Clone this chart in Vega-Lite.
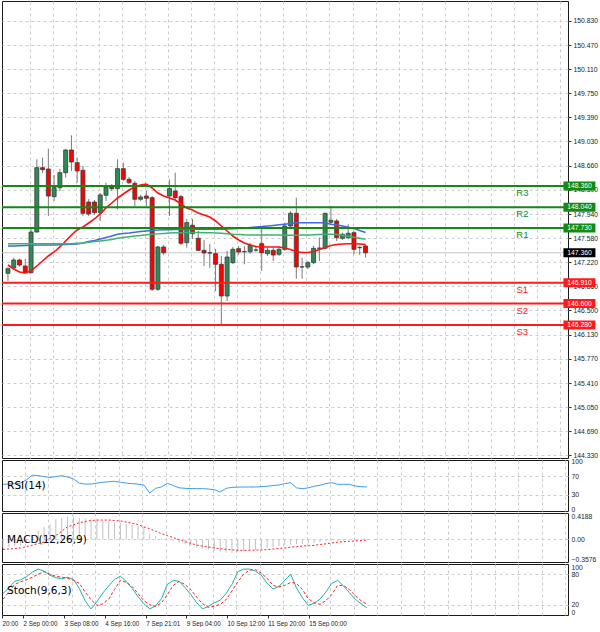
{
  "$schema": "https://vega.github.io/schema/vega-lite/v6.json",
  "padding": 0,
  "background": "white",
  "spacing": 2,
  "bounds": "flush",
  "datasets": {
    "bars": [
      {"i":0,"o":147.053,"h":147.147,"l":146.938,"c":147.122,"m1":147.177,"m2":147.462,"m3":147.496,"rsi":52.5,"macd":-0.13,"sig":-0.157,"k":42,"d":31},
      {"i":1,"o":147.132,"h":147.287,"l":147.117,"c":147.252,"m1":147.117,"m2":147.462,"m3":147.496,"rsi":53,"macd":-0.12,"sig":-0.152,"k":53,"d":45},
      {"i":2,"o":147.252,"h":147.272,"l":147.152,"c":147.177,"m1":147.072,"m2":147.465,"m3":147.496,"rsi":54,"macd":-0.11,"sig":-0.145,"k":66,"d":60},
      {"i":3,"o":147.162,"h":147.267,"l":147.058,"c":147.062,"m1":147.058,"m2":147.469,"m3":147.496,"rsi":55,"macd":-0.1,"sig":-0.132,"k":69,"d":65},
      {"i":4,"o":147.062,"h":147.736,"l":147.05,"c":147.671,"m1":147.088,"m2":147.474,"m3":147.496,"rsi":62,"macd":-0.04,"sig":-0.115,"k":75,"d":69},
      {"i":5,"o":147.671,"h":148.76,"l":147.661,"c":148.634,"m1":147.162,"m2":147.477,"m3":147.496,"rsi":72,"macd":0.06,"sig":-0.09,"k":84,"d":74},
      {"i":6,"o":148.634,"h":148.784,"l":148.555,"c":148.604,"m1":147.237,"m2":147.477,"m3":147.496,"rsi":71,"macd":0.14,"sig":-0.065,"k":90,"d":80},
      {"i":7,"o":148.614,"h":148.918,"l":147.911,"c":148.21,"m1":147.312,"m2":147.477,"m3":147.496,"rsi":69,"macd":0.2,"sig":-0.04,"k":86,"d":85},
      {"i":8,"o":148.2,"h":148.525,"l":148.135,"c":148.335,"m1":147.372,"m2":147.477,"m3":147.496,"rsi":67,"macd":0.24,"sig":0.02,"k":78,"d":80},
      {"i":9,"o":148.335,"h":148.614,"l":148.285,"c":148.559,"m1":147.447,"m2":147.48,"m3":147.496,"rsi":69,"macd":0.32,"sig":0.06,"k":73,"d":76},
      {"i":10,"o":148.559,"h":148.914,"l":148.484,"c":148.899,"m1":147.537,"m2":147.484,"m3":147.496,"rsi":71,"macd":0.34,"sig":0.13,"k":71,"d":74},
      {"i":11,"o":148.899,"h":149.119,"l":148.585,"c":148.719,"m1":147.626,"m2":147.489,"m3":147.496,"rsi":68,"macd":0.36,"sig":0.2,"k":74,"d":72},
      {"i":12,"o":148.709,"h":148.784,"l":148.409,"c":148.585,"m1":147.701,"m2":147.493,"m3":147.501,"rsi":64,"macd":0.36,"sig":0.23,"k":70,"d":68},
      {"i":13,"o":148.595,"h":148.659,"l":147.911,"c":147.951,"m1":147.746,"m2":147.507,"m3":147.507,"rsi":55,"macd":0.34,"sig":0.265,"k":52,"d":62},
      {"i":14,"o":148.12,"h":148.165,"l":147.911,"c":147.941,"m1":147.806,"m2":147.529,"m3":147.519,"rsi":53,"macd":0.34,"sig":0.283,"k":28,"d":45},
      {"i":15,"o":148.12,"h":148.15,"l":147.93,"c":147.96,"m1":147.866,"m2":147.544,"m3":147.528,"rsi":53,"macd":0.32,"sig":0.3,"k":12,"d":30},
      {"i":16,"o":147.96,"h":148.255,"l":147.836,"c":148.225,"m1":147.941,"m2":147.567,"m3":147.537,"rsi":55,"macd":0.32,"sig":0.307,"k":26,"d":19},
      {"i":17,"o":148.221,"h":148.409,"l":148.135,"c":148.345,"m1":148.031,"m2":147.589,"m3":147.547,"rsi":57,"macd":0.29,"sig":0.307,"k":43,"d":22},
      {"i":18,"o":148.349,"h":148.39,"l":148.285,"c":148.32,"m1":148.105,"m2":147.611,"m3":147.559,"rsi":58,"macd":0.28,"sig":0.307,"k":57,"d":31},
      {"i":19,"o":148.32,"h":148.76,"l":148.011,"c":148.619,"m1":148.18,"m2":147.637,"m3":147.576,"rsi":59,"macd":0.27,"sig":0.3,"k":70,"d":50},
      {"i":20,"o":148.619,"h":148.709,"l":148.435,"c":148.46,"m1":148.24,"m2":147.649,"m3":147.589,"rsi":57,"macd":0.26,"sig":0.293,"k":76,"d":68},
      {"i":21,"o":148.46,"h":148.495,"l":148.39,"c":148.409,"m1":148.3,"m2":147.656,"m3":147.6,"rsi":55,"macd":0.24,"sig":0.275,"k":66,"d":64},
      {"i":22,"o":148.4,"h":148.435,"l":148.061,"c":148.161,"m1":148.345,"m2":147.667,"m3":147.611,"rsi":54,"macd":0.23,"sig":0.255,"k":52,"d":56},
      {"i":23,"o":148.161,"h":148.225,"l":148.135,"c":148.195,"m1":148.375,"m2":147.677,"m3":147.62,"rsi":53,"macd":0.21,"sig":0.235,"k":36,"d":42},
      {"i":24,"o":148.21,"h":148.285,"l":148.061,"c":148.176,"m1":148.39,"m2":147.686,"m3":147.629,"rsi":51,"macd":0.2,"sig":0.2,"k":22,"d":28},
      {"i":25,"o":148.185,"h":148.21,"l":146.788,"c":146.814,"m1":148.33,"m2":147.692,"m3":147.637,"rsi":34,"macd":0.09,"sig":0.17,"k":12,"d":20},
      {"i":26,"o":146.814,"h":147.462,"l":146.788,"c":147.447,"m1":148.255,"m2":147.7,"m3":147.643,"rsi":44,"macd":0.05,"sig":0.13,"k":18,"d":17},
      {"i":27,"o":147.447,"h":147.477,"l":147.327,"c":147.361,"m1":148.21,"m2":147.704,"m3":147.649,"rsi":47,"macd":0.02,"sig":0.09,"k":32,"d":24},
      {"i":28,"o":148.21,"h":148.46,"l":147.911,"c":148.32,"m1":148.18,"m2":147.706,"m3":147.655,"rsi":54.6,"macd":0.005,"sig":0.06,"k":60,"d":40},
      {"i":29,"o":148.285,"h":148.559,"l":148.135,"c":148.185,"m1":148.15,"m2":147.707,"m3":147.658,"rsi":50,"macd":-0.02,"sig":0.03,"k":68,"d":58},
      {"i":30,"o":148.2,"h":148.225,"l":147.477,"c":147.502,"m1":148.09,"m2":147.709,"m3":147.659,"rsi":45,"macd":-0.05,"sig":0.0,"k":66,"d":66},
      {"i":31,"o":147.511,"h":147.866,"l":147.436,"c":147.811,"m1":148.031,"m2":147.71,"m3":147.662,"rsi":44,"macd":-0.07,"sig":-0.035,"k":54,"d":60},
      {"i":32,"o":147.772,"h":147.866,"l":147.567,"c":147.646,"m1":148.001,"m2":147.712,"m3":147.664,"rsi":43.5,"macd":-0.1,"sig":-0.06,"k":40,"d":50},
      {"i":33,"o":147.577,"h":147.686,"l":147.387,"c":147.397,"m1":147.956,"m2":147.712,"m3":147.664,"rsi":43.3,"macd":-0.13,"sig":-0.09,"k":24,"d":35},
      {"i":34,"o":147.397,"h":147.552,"l":147.162,"c":147.357,"m1":147.926,"m2":147.712,"m3":147.661,"rsi":43.3,"macd":-0.145,"sig":-0.107,"k":12,"d":22},
      {"i":35,"o":147.36,"h":147.492,"l":147.137,"c":147.355,"m1":147.896,"m2":147.712,"m3":147.659,"rsi":42.5,"macd":-0.16,"sig":-0.12,"k":17,"d":15},
      {"i":36,"o":147.347,"h":147.417,"l":146.788,"c":147.188,"m1":147.836,"m2":147.712,"m3":147.656,"rsi":41,"macd":-0.18,"sig":-0.135,"k":24,"d":17},
      {"i":37,"o":147.188,"h":147.312,"l":146.294,"c":146.713,"m1":147.761,"m2":147.713,"m3":147.652,"rsi":36.3,"macd":-0.2,"sig":-0.147,"k":29,"d":21},
      {"i":38,"o":146.713,"h":147.387,"l":146.638,"c":147.297,"m1":147.686,"m2":147.716,"m3":147.646,"rsi":44,"macd":-0.21,"sig":-0.157,"k":42,"d":30},
      {"i":39,"o":147.212,"h":147.447,"l":147.192,"c":147.412,"m1":147.611,"m2":147.721,"m3":147.638,"rsi":46,"macd":-0.21,"sig":-0.165,"k":60,"d":47},
      {"i":40,"o":147.421,"h":147.462,"l":147.327,"c":147.372,"m1":147.552,"m2":147.725,"m3":147.634,"rsi":46.5,"macd":-0.2,"sig":-0.172,"k":85,"d":65},
      {"i":41,"o":147.376,"h":147.462,"l":147.188,"c":147.378,"m1":147.507,"m2":147.728,"m3":147.629,"rsi":46.8,"macd":-0.185,"sig":-0.173,"k":90,"d":80},
      {"i":42,"o":147.376,"h":147.511,"l":147.342,"c":147.472,"m1":147.477,"m2":147.737,"m3":147.626,"rsi":46.8,"macd":-0.185,"sig":-0.172,"k":90,"d":88},
      {"i":43,"o":147.402,"h":147.462,"l":147.372,"c":147.4,"m1":147.454,"m2":147.745,"m3":147.626,"rsi":46.8,"macd":-0.17,"sig":-0.17,"k":86,"d":89},
      {"i":44,"o":147.496,"h":147.716,"l":147.088,"c":147.361,"m1":147.447,"m2":147.752,"m3":147.626,"rsi":47.5,"macd":-0.16,"sig":-0.168,"k":78,"d":82},
      {"i":45,"o":147.347,"h":147.432,"l":147.312,"c":147.397,"m1":147.447,"m2":147.761,"m3":147.626,"rsi":48.5,"macd":-0.14,"sig":-0.16,"k":62,"d":72},
      {"i":46,"o":147.397,"h":147.432,"l":147.237,"c":147.327,"m1":147.447,"m2":147.769,"m3":147.626,"rsi":50,"macd":-0.12,"sig":-0.152,"k":51,"d":58},
      {"i":47,"o":147.338,"h":147.447,"l":147.312,"c":147.412,"m1":147.447,"m2":147.778,"m3":147.625,"rsi":51,"macd":-0.105,"sig":-0.143,"k":56,"d":55},
      {"i":48,"o":147.412,"h":147.811,"l":147.387,"c":147.761,"m1":147.432,"m2":147.787,"m3":147.623,"rsi":54,"macd":-0.09,"sig":-0.135,"k":68,"d":58},
      {"i":49,"o":147.761,"h":147.986,"l":147.731,"c":147.951,"m1":147.409,"m2":147.797,"m3":147.622,"rsi":56,"macd":-0.08,"sig":-0.122,"k":80,"d":64},
      {"i":50,"o":147.951,"h":148.185,"l":146.972,"c":147.147,"m1":147.379,"m2":147.808,"m3":147.623,"rsi":45,"macd":-0.075,"sig":-0.114,"k":53,"d":62},
      {"i":51,"o":147.147,"h":147.287,"l":146.972,"c":147.15,"m1":147.364,"m2":147.811,"m3":147.626,"rsi":43.3,"macd":-0.07,"sig":-0.105,"k":34,"d":50},
      {"i":52,"o":147.147,"h":147.237,"l":147.117,"c":147.212,"m1":147.364,"m2":147.811,"m3":147.628,"rsi":45,"macd":-0.06,"sig":-0.1,"k":19,"d":32},
      {"i":53,"o":147.212,"h":147.462,"l":147.192,"c":147.427,"m1":147.379,"m2":147.811,"m3":147.631,"rsi":48.5,"macd":-0.055,"sig":-0.094,"k":23,"d":24},
      {"i":54,"o":147.427,"h":147.586,"l":147.237,"c":147.43,"m1":147.409,"m2":147.811,"m3":147.634,"rsi":50.5,"macd":-0.045,"sig":-0.08,"k":31,"d":21},
      {"i":55,"o":147.427,"h":147.96,"l":147.417,"c":147.951,"m1":147.439,"m2":147.806,"m3":147.637,"rsi":54,"macd":-0.03,"sig":-0.07,"k":45,"d":28},
      {"i":56,"o":147.817,"h":148.061,"l":147.776,"c":147.846,"m1":147.469,"m2":147.788,"m3":147.637,"rsi":56,"macd":-0.02,"sig":-0.055,"k":62,"d":40},
      {"i":57,"o":147.836,"h":147.866,"l":147.537,"c":147.586,"m1":147.484,"m2":147.776,"m3":147.634,"rsi":52.5,"macd":-0.02,"sig":-0.045,"k":68,"d":58},
      {"i":58,"o":147.577,"h":147.661,"l":147.552,"c":147.637,"m1":147.492,"m2":147.761,"m3":147.622,"rsi":52.5,"macd":-0.015,"sig":-0.036,"k":57,"d":58},
      {"i":59,"o":147.586,"h":147.787,"l":147.562,"c":147.652,"m1":147.496,"m2":147.742,"m3":147.607,"rsi":52.5,"macd":-0.01,"sig":-0.03,"k":44,"d":50},
      {"i":60,"o":147.661,"h":147.686,"l":147.338,"c":147.412,"m1":147.496,"m2":147.722,"m3":147.592,"rsi":49,"macd":-0.015,"sig":-0.025,"k":31,"d":38},
      {"i":61,"o":147.436,"h":147.462,"l":147.327,"c":147.44,"m1":147.492,"m2":147.694,"m3":147.577,"rsi":47.5,"macd":-0.015,"sig":-0.018,"k":22,"d":28},
      {"i":62,"o":147.462,"h":147.487,"l":147.287,"c":147.36,"m1":147.484,"m2":147.664,"m3":147.562,"rsi":46.8,"macd":-0.015,"sig":-0.01,"k":14,"d":21}
    ],
    "levels": [
      {"lab":"R3","v":148.36,"kind":"R"},
      {"lab":"R2","v":148.04,"kind":"R"},
      {"lab":"R1","v":147.73,"kind":"R"},
      {"lab":"S1","v":146.91,"kind":"S"},
      {"lab":"S2","v":146.6,"kind":"S"},
      {"lab":"S3","v":146.28,"kind":"S"},
      {"lab":"","v":147.36,"kind":"P"}
    ]
  },
  "vconcat": [
    {
      "width": 566,
      "height": 457,
      "data": {"name": "bars"},
      "layer": [
        {
          "data": {"name": "levels"},
          "transform": [{"filter": "datum.kind == 'P'"}],
          "mark": {"type": "rule", "color": "#c8c8c8", "strokeWidth": 1},
          "encoding": {
            "y": {"field": "v", "type": "quantitative", "title": null,
              "scale": {"domain": [144.288, 151.129], "nice": false, "zero": false},
              "axis": {"orient": "right", "values": [150.83,150.47,150.11,149.75,149.39,149.03,148.66,148.3,147.94,147.58,147.22,146.86,146.5,146.13,145.77,145.41,145.05,144.69,144.33], "tickCount": 100, "format": ".3f", "labelOverlap": false, "tickSize": 3, "labelPadding": 2, "grid": true, "domain": false}}
          }
        },
        {
          "mark": {"type": "rule", "color": "#7a7a7a", "strokeWidth": 1},
          "encoding": {
            "x": {"field": "i", "type": "quantitative", "title": null,
              "scale": {"domain": [-0.17, 96.25], "nice": false, "zero": false},
              "axis": {"values": [3.75,7.75,11.75,15.75,19.75,23.75,27.75,31.75,35.75,39.75,43.75,47.75,51.75,55.75,59.75,63.75,67.75,71.75,75.75,79.75,83.75,87.75,91.75,95.75], "tickCount": 100, "labels": false, "ticks": false, "domain": false, "grid": true}},
            "y": {"field": "l", "type": "quantitative", "title": null, "scale": {"domain": [144.288, 151.129], "nice": false, "zero": false}},
            "y2": {"field": "h"}
          }
        },
        {
          "mark": {"type": "bar", "orient": "vertical", "size": 4, "stroke": "#3a3a3a", "strokeWidth": 0.8},
          "encoding": {
            "x": {"field": "i", "type": "quantitative", "title": null, "scale": {"domain": [-0.17, 96.25], "nice": false, "zero": false}},
            "y": {"field": "o", "type": "quantitative", "title": null, "scale": {"domain": [144.288, 151.129], "nice": false, "zero": false}},
            "y2": {"field": "c"},
            "fill": {"condition": {"test": "datum.c >= datum.o", "value": "#2e8b57"}, "value": "#ff0000"}
          }
        },
        {
          "mark": {"type": "line", "color": "#ff1010", "strokeWidth": 1.6},
          "encoding": {
            "x": {"field": "i", "type": "quantitative", "title": null, "scale": {"domain": [-0.17, 96.25], "nice": false, "zero": false}},
            "y": {"field": "m1", "type": "quantitative", "title": null, "scale": {"domain": [144.288, 151.129], "nice": false, "zero": false}}
          }
        },
        {
          "mark": {"type": "line", "color": "#4169e1", "strokeWidth": 1.5},
          "encoding": {
            "x": {"field": "i", "type": "quantitative", "title": null, "scale": {"domain": [-0.17, 96.25], "nice": false, "zero": false}},
            "y": {"field": "m2", "type": "quantitative", "title": null, "scale": {"domain": [144.288, 151.129], "nice": false, "zero": false}}
          }
        },
        {
          "mark": {"type": "line", "color": "#3cb371", "strokeWidth": 1.5},
          "encoding": {
            "x": {"field": "i", "type": "quantitative", "title": null, "scale": {"domain": [-0.17, 96.25], "nice": false, "zero": false}},
            "y": {"field": "m3", "type": "quantitative", "title": null, "scale": {"domain": [144.288, 151.129], "nice": false, "zero": false}}
          }
        },
        {
          "data": {"name": "levels"},
          "transform": [{"filter": "datum.kind != 'P'"}],
          "mark": {"type": "rule", "strokeWidth": 2},
          "encoding": {
            "y": {"field": "v", "type": "quantitative", "title": null, "scale": {"domain": [144.288, 151.129], "nice": false, "zero": false}},
            "color": {"field": "kind", "type": "nominal", "legend": null, "scale": {"domain": ["R", "S", "P"], "range": ["#138a13", "#ff1a1a", "#000000"]}}
          }
        },
        {
          "data": {"name": "levels"},
          "mark": {"type": "tick", "orient": "horizontal", "size": 32, "thickness": 9, "opacity": 1},
          "encoding": {
            "x": {"datum": 99.1, "type": "quantitative", "scale": {"domain": [-0.17, 96.25], "nice": false, "zero": false}},
            "y": {"field": "v", "type": "quantitative", "title": null, "scale": {"domain": [144.288, 151.129], "nice": false, "zero": false}},
            "color": {"field": "kind", "type": "nominal", "legend": null, "scale": {"domain": ["R", "S", "P"], "range": ["#138a13", "#ff1a1a", "#000000"]}}
          }
        },
        {
          "data": {"name": "levels"},
          "mark": {"type": "text", "color": "white", "fontSize": 6.8, "font": "Liberation Sans", "align": "center", "baseline": "middle"},
          "encoding": {
            "x": {"datum": 99.1, "type": "quantitative", "scale": {"domain": [-0.17, 96.25], "nice": false, "zero": false}},
            "y": {"field": "v", "type": "quantitative", "title": null, "scale": {"domain": [144.288, 151.129], "nice": false, "zero": false}},
            "text": {"field": "v", "type": "quantitative", "format": ".3f"}
          }
        },
        {
          "data": {"name": "levels"},
          "transform": [{"filter": "datum.kind != 'P'"}],
          "mark": {"type": "text", "fontSize": 9.5, "font": "Liberation Sans", "align": "center", "baseline": "middle", "dy": 7},
          "encoding": {
            "x": {"datum": 89.2, "type": "quantitative", "scale": {"domain": [-0.17, 96.25], "nice": false, "zero": false}},
            "y": {"field": "v", "type": "quantitative", "title": null, "scale": {"domain": [144.288, 151.129], "nice": false, "zero": false}},
            "text": {"field": "lab"},
            "color": {"field": "kind", "type": "nominal", "legend": null, "scale": {"domain": ["R", "S", "P"], "range": ["#2e9a2e", "#ff3030", "#000000"]}}
          }
        }
      ]
    },
    {
      "width": 566,
      "height": 51,
      "data": {"name": "bars"},
      "layer": [
        {
          "mark": {"type": "line", "color": "#3c9cf0", "strokeWidth": 1},
          "encoding": {
            "x": {"field": "i", "type": "quantitative", "title": null,
              "scale": {"domain": [-0.17, 96.25], "nice": false, "zero": false},
              "axis": {"values": [3.75,7.75,11.75,15.75,19.75,23.75,27.75,31.75,35.75,39.75,43.75,47.75,51.75,55.75,59.75,63.75,67.75,71.75,75.75,79.75,83.75,87.75,91.75,95.75], "tickCount": 100, "labels": false, "ticks": false, "domain": false, "grid": true}},
            "y": {"field": "rsi", "type": "quantitative", "title": null,
              "scale": {"domain": [-4.2, 104.2], "nice": false, "zero": false},
              "axis": {"orient": "right", "values": [100, 70, 30, 0], "tickCount": 100, "labelOverlap": false, "tickSize": 0, "labelPadding": 3, "domain": false, "grid": true,
                "gridOpacity": {"condition": {"test": "datum.value == 70 || datum.value == 30", "value": 1}, "value": 0}}}
          }
        },
        {
          "data": {"values": [{"t": "RSI(14)"}]},
          "mark": {"type": "text", "fontSize": 10.5, "font": "DejaVu Sans", "align": "left", "baseline": "middle", "color": "#000"},
          "encoding": {
            "x": {"datum": 0.7, "type": "quantitative", "scale": {"domain": [-0.17, 96.25], "nice": false, "zero": false}},
            "y": {"datum": 50, "type": "quantitative", "scale": {"domain": [-4.2, 104.2], "nice": false, "zero": false}},
            "text": {"field": "t"}
          }
        }
      ]
    },
    {
      "width": 566,
      "height": 49,
      "data": {"name": "bars"},
      "layer": [
        {
          "mark": {"type": "rule", "color": "#c0c0c0", "strokeWidth": 1},
          "encoding": {
            "x": {"field": "i", "type": "quantitative", "title": null,
              "scale": {"domain": [-0.17, 96.25], "nice": false, "zero": false},
              "axis": {"values": [3.75,7.75,11.75,15.75,19.75,23.75,27.75,31.75,35.75,39.75,43.75,47.75,51.75,55.75,59.75,63.75,67.75,71.75,75.75,79.75,83.75,87.75,91.75,95.75], "tickCount": 100, "labels": false, "ticks": false, "domain": false, "grid": true}},
            "y": {"field": "macd", "type": "quantitative", "title": null,
              "scale": {"domain": [-0.3576, 0.4188], "nice": false, "zero": false},
              "axis": {"orient": "right", "values": [0.4188, 0, -0.3576], "tickCount": 100, "labelExpr": "datum.value == 0 ? '0.00' : format(datum.value, '.4f')", "labelOverlap": false, "labelFlush": true, "tickSize": 0, "labelPadding": 3, "domain": false, "grid": true,
                "gridOpacity": {"condition": {"test": "datum.value == 0", "value": 1}, "value": 0}}},
            "y2": {"datum": 0}
          }
        },
        {
          "mark": {"type": "line", "color": "#ff2020", "strokeWidth": 1, "strokeDash": [2, 2]},
          "encoding": {
            "x": {"field": "i", "type": "quantitative", "title": null, "scale": {"domain": [-0.17, 96.25], "nice": false, "zero": false}},
            "y": {"field": "sig", "type": "quantitative", "title": null, "scale": {"domain": [-0.3576, 0.4188], "nice": false, "zero": false}}
          }
        },
        {
          "data": {"values": [{"t": "MACD(12,26,9)"}]},
          "mark": {"type": "text", "fontSize": 10.5, "font": "DejaVu Sans", "align": "left", "baseline": "middle", "color": "#000"},
          "encoding": {
            "x": {"datum": 0.7, "type": "quantitative", "scale": {"domain": [-0.17, 96.25], "nice": false, "zero": false}},
            "y": {"datum": -0.015, "type": "quantitative", "scale": {"domain": [-0.3576, 0.4188], "nice": false, "zero": false}},
            "text": {"field": "t"}
          }
        }
      ]
    },
    {
      "width": 566,
      "height": 51,
      "data": {"name": "bars"},
      "resolve": {"axis": {"x": "independent"}},
      "layer": [
        {
          "mark": {"type": "line", "color": "#20b2aa", "strokeWidth": 1},
          "encoding": {
            "x": {"field": "i", "type": "quantitative", "title": null,
              "scale": {"domain": [-0.17, 96.25], "nice": false, "zero": false},
              "axis": {"orient": "top", "values": [3.75,7.75,11.75,15.75,19.75,23.75,27.75,31.75,35.75,39.75,43.75,47.75,51.75,55.75,59.75,63.75,67.75,71.75,75.75,79.75,83.75,87.75,91.75,95.75], "tickCount": 100, "labels": false, "ticks": false, "domain": false, "grid": true}},
            "y": {"field": "k", "type": "quantitative", "title": null,
              "scale": {"domain": [0, 100], "nice": false, "zero": false},
              "axis": {"orient": "right", "values": [100, 80, 20, 0], "tickCount": 100, "labelOverlap": false, "labelFlush": true, "tickSize": 0, "labelPadding": 3, "domain": false, "grid": true,
                "gridOpacity": {"condition": {"test": "datum.value == 80 || datum.value == 20", "value": 1}, "value": 0}}}
          }
        },
        {
          "mark": {"type": "line", "color": "#ff2020", "strokeWidth": 1, "strokeDash": [3, 2]},
          "encoding": {
            "x": {"field": "i", "type": "quantitative", "title": null,
              "scale": {"domain": [-0.17, 96.25], "nice": false, "zero": false},
              "axis": {"orient": "bottom", "values": [-0.17, 3.41, 10.39, 17.33, 24.31, 31.23, 38.16, 45.09, 52.08], "tickCount": 100,
                "labelExpr": "datum.value < 0 ? '20:00' : datum.value < 5 ? '2 Sep 00:00' : datum.value < 12 ? '3 Sep 08:00' : datum.value < 20 ? '4 Sep 16:00' : datum.value < 27 ? '7 Sep 21:01' : datum.value < 34 ? '9 Sep 04:00' : datum.value < 41 ? '10 Sep 12:00' : datum.value < 48 ? '11 Sep 20:00' : '15 Sep 00:00'",
                "labelOverlap": false, "labelFontSize": 6.3, "labelAlign": "left", "labelBaseline": "top", "tickSize": 3, "labelPadding": 2, "grid": false, "domain": false}},
            "y": {"field": "d", "type": "quantitative", "title": null, "scale": {"domain": [0, 100], "nice": false, "zero": false}}
          }
        },
        {
          "data": {"values": [{"t": "Stoch(9,6,3)"}]},
          "mark": {"type": "text", "fontSize": 10.5, "font": "DejaVu Sans", "align": "left", "baseline": "middle", "color": "#000"},
          "encoding": {
            "x": {"datum": 0.7, "type": "quantitative", "scale": {"domain": [-0.17, 96.25], "nice": false, "zero": false}, "axis": null},
            "y": {"datum": 47, "type": "quantitative", "scale": {"domain": [0, 100], "nice": false, "zero": false}},
            "text": {"field": "t"}
          }
        }
      ]
    }
  ],
  "config": {
    "view": {"stroke": "#1a1a1a", "strokeWidth": 1},
    "axis": {
      "labelFont": "Liberation Sans",
      "labelFontSize": 6.8,
      "labelOverlap": false,
      "labelColor": "#222222",
      "gridColor": "#cccccc",
      "gridDash": [3, 3],
      "gridWidth": 1,
      "tickColor": "#333333"
    }
  }
}
